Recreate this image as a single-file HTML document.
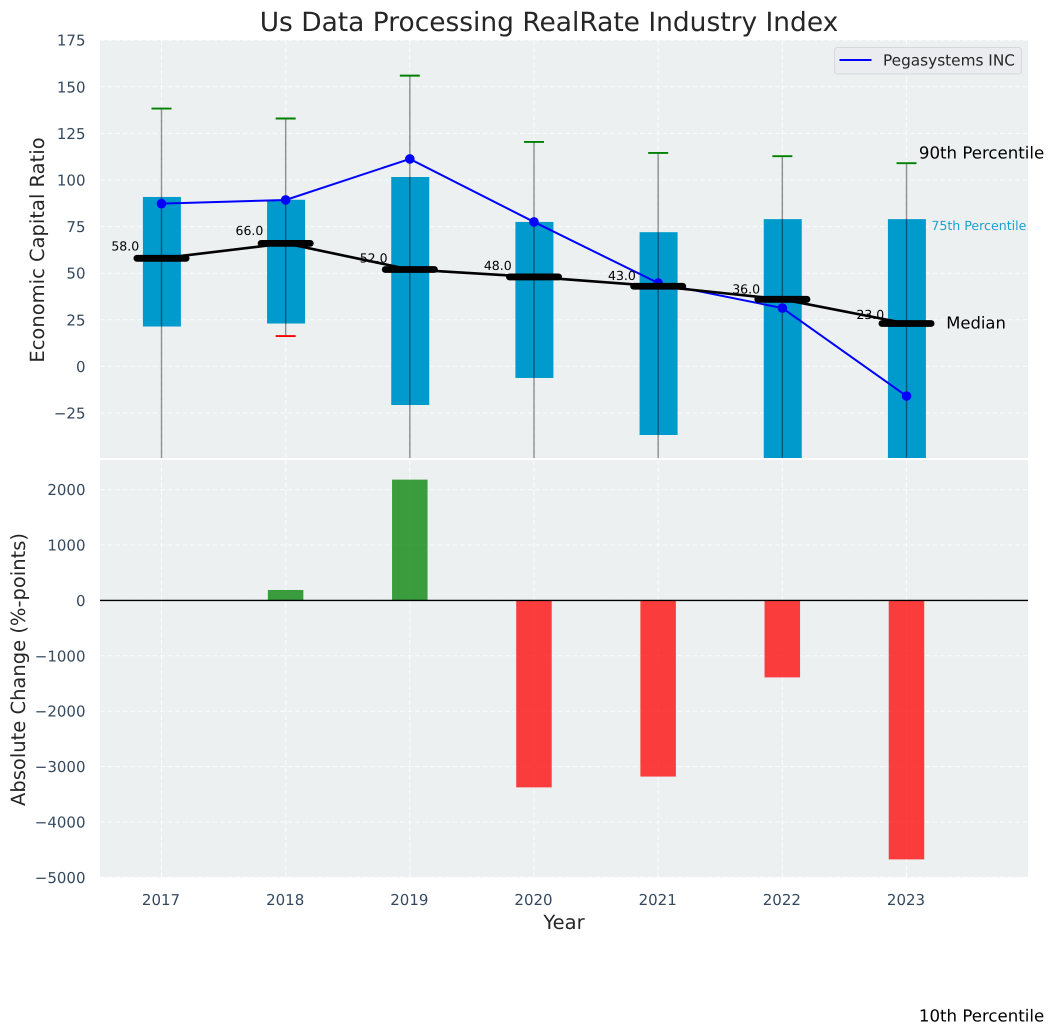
<!DOCTYPE html>
<html lang="en">
<head>
<meta charset="utf-8">
<title>Us Data Processing RealRate Industry Index</title>
<style>
html,body{margin:0;padding:0;background:#fff;width:1054px;height:1035px;overflow:hidden}
svg{display:block;font-family:"DejaVu Sans","Liberation Sans",sans-serif;text-rendering:geometricPrecision}
</style>
</head>
<body>
<svg id="chart" xmlns="http://www.w3.org/2000/svg" width="1054" height="1035" viewBox="0 0 1054 1035">
  <defs>
    <clipPath id="top-clip"><rect x="100" y="40" width="928" height="418"></rect></clipPath>
  </defs>
  <rect x="100" y="40" width="928" height="418" fill="#ecf0f1"></rect>
  <rect x="100" y="460" width="928" height="417.5" fill="#ecf0f1"></rect>
  <g id="top-grid"></g>
  <g id="bottom-grid"></g>
  <g id="boxes" clip-path="url(#top-clip)"></g>
  <g id="company" clip-path="url(#top-clip)"></g>
  <g id="medians" clip-path="url(#top-clip)"></g>
  <g id="bars"></g>
  <line x1="100" x2="1028" y1="600.4" y2="600.4" stroke="#000" stroke-width="1.4"></line>
  <g id="labels"></g>
  <g id="axes"></g>
  <text x="549" y="31" text-anchor="middle" font-size="26.45" fill="#262626">Us Data Processing RealRate Industry Index</text>
  <text transform="translate(44,250) rotate(-90)" text-anchor="middle" font-size="19.5" fill="#262626">Economic Capital Ratio</text>
  <text transform="translate(25,669.5) rotate(-90)" text-anchor="middle" font-size="19.5" fill="#262626">Absolute Change (%-points)</text>
  <text x="564" y="929" text-anchor="middle" font-size="19.5" fill="#262626">Year</text>
  <g>
    <rect x="834.5" y="47.5" width="187" height="26.5" rx="3" fill="#eaecf0" stroke="#d6d8dc" stroke-width="1"></rect>
    <line x1="839.5" x2="871.5" y1="60" y2="60" stroke="#0000ff" stroke-width="2"></line>
    <text x="883" y="65.5" font-size="15.3" fill="#262626">Pegasystems INC</text>
  </g>
</svg>
<script>
const years = [2017, 2018, 2019, 2020, 2021, 2022, 2023];
const p90 = [138.3, 133, 156, 120.4, 114.5, 112.8, 109];
const p75 = [90.9, 89.4, 101.6, 77.5, 72, 79, 79];
const medianValues = [58, 66, 52, 48, 43, 36, 23];
const p25 = [21.4, 23, -20.7, -6.2, -36.8, -60, -70];
const p10 = [-80, 16.3, -90, -75, -100, -120, -348];
const companyValues = [87.3, 89.3, 111.3, 77.5, 44.7, 31.3, -15.9];
const changeValues = [null, 188, 2180, -3375, -3180, -1390, -4675];
const topTicks = [175, 150, 125, 100, 75, 50, 25, 0, -25];
const bottomTicks = [2000, 1000, 0, -1000, -2000, -3000, -4000, -5000];

const NS = 'http://www.w3.org/2000/svg';
function xScale(year) { return 161.5 + (year - 2017) * 124.17; }
function yTop(v) { return 366.4 - v * 1.864; }
function yBottom(v) { return 600.4 - v * 0.0554; }
function fmtTick(v) { return v < 0 ? '\u2212' + Math.abs(v) : String(v); }
function make(parent, tag, attrs, text) {
  const el = document.createElementNS(NS, tag);
  for (const k in attrs) el.setAttribute(k, attrs[k]);
  if (text !== undefined) el.textContent = text;
  parent.appendChild(el);
  return el;
}
const topGrid = document.getElementById('top-grid');
const bottomGrid = document.getElementById('bottom-grid');
const boxes = document.getElementById('boxes');
const company = document.getElementById('company');
const medians = document.getElementById('medians');
const bars = document.getElementById('bars');
const labels = document.getElementById('labels');
const axes = document.getElementById('axes');
const gridStyle = { stroke: '#fff', 'stroke-width': 1, 'stroke-dasharray': '5 2.5', 'stroke-opacity': 0.75 };
const tickStyle = { 'font-size': 15, fill: '#34495e' };

topTicks.forEach(function (t) {
  const gl = make(topGrid, 'line', Object.assign({ x1: 100, x2: 1028, y1: yTop(t), y2: yTop(t) }, gridStyle));
  
  
  const lb = make(axes, 'text', Object.assign({ x: 85.5, y: yTop(t) + 5.5, 'text-anchor': 'end' }, tickStyle), fmtTick(t));
  
  
});
bottomTicks.forEach(function (t) {
  const gl = make(bottomGrid, 'line', Object.assign({ x1: 100, x2: 1028, y1: yBottom(t), y2: yBottom(t) }, gridStyle));
  
  
  const lb = make(axes, 'text', Object.assign({ x: 85.5, y: yBottom(t) + 5.5, 'text-anchor': 'end' }, tickStyle), fmtTick(t));
  
  
});

years.forEach(function (year, i) {
  const x = xScale(year);
  const gt = make(topGrid, 'line', Object.assign({ x1: x, x2: x, y1: 40, y2: 458 }, gridStyle));
  
  
  const gb = make(bottomGrid, 'line', Object.assign({ x1: x, x2: x, y1: 460, y2: 877.5 }, gridStyle));
  
  

  const box = make(boxes, 'rect', { x: x - 18.6, y: yTop(p75[i]), width: 38, height: yTop(p25[i]) - yTop(p75[i]), fill: '#009acc' });
  
  
  const whisker = make(boxes, 'line', { x1: x, x2: x, y1: yTop(p90[i]), y2: yTop(p10[i]), stroke: '#000', 'stroke-opacity': 0.42, 'stroke-width': 1.4 });
  
  
  const capHigh = make(boxes, 'line', { x1: x - 10, x2: x + 10, y1: yTop(p90[i]), y2: yTop(p90[i]), stroke: '#008000', 'stroke-width': 1.9 });
  
  
  const capLow = make(boxes, 'line', { x1: x - 10, x2: x + 10, y1: yTop(p10[i]), y2: yTop(p10[i]), stroke: '#ff0000', 'stroke-width': 1.9 });
  
  

  const v = changeValues[i];
  if (v !== null) {
    const bar = make(bars, 'rect', { x: x - 17.8, y: Math.min(yBottom(v), yBottom(0)), width: 35.5, height: Math.abs(yBottom(v) - yBottom(0)), fill: v >= 0 ? '#008000' : '#ff0000', 'fill-opacity': 0.75 });
    
    
  }

  const tick = make(axes, 'text', Object.assign({ x: x - 0.5, y: 905, 'text-anchor': 'middle' }, tickStyle), String(year));
  
  
});

const companyPath = make(company, 'polyline', { points: years.map(function (y, i) { return xScale(y) + ',' + yTop(companyValues[i]); }).join(' '), fill: 'none', stroke: '#0000ff', 'stroke-width': 2 });


years.forEach(function (year, i) {
  const dot = make(company, 'circle', { cx: xScale(year), cy: yTop(companyValues[i]), r: 4.8, fill: '#0000ff' });
  
  
});

const medianPath = make(medians, 'polyline', { points: years.map(function (y, i) { return xScale(y) + ',' + yTop(medianValues[i]); }).join(' '), fill: 'none', stroke: '#000', 'stroke-width': 2.6 });


years.forEach(function (year, i) {
  const x = xScale(year);
  const v = medianValues[i];
  const bar = make(medians, 'line', { x1: x - 24.6, x2: x + 24.6, y1: yTop(v), y2: yTop(v), stroke: '#000', 'stroke-width': 6.8, 'stroke-linecap': 'round' });
  
  
  const label = make(labels, 'text', { x: x - 22.3, y: yTop(v) - 8.5 - (v - 23) * 0.1 + 4.2, 'text-anchor': 'end', 'font-size': 12.5, fill: '#000' }, v.toFixed(1));
  
  
});

const last = years.length - 1;
const lastX = xScale(years[last]);
const p90Note = make(labels, 'text', { x: lastX + 12.4, y: yTop(p90[last]) - 4.8, 'font-size': 16.6, fill: '#000' }, '90th Percentile');


const p75Note = make(labels, 'text', { x: lastX + 24.8, y: yTop(p75[last]) + 11, 'font-size': 12.6, fill: '#0099cc', 'fill-opacity': 0.9 }, '75th Percentile');


const medianNote = make(labels, 'text', { x: lastX + 39.7, y: yTop(medianValues[last]) + 5, 'font-size': 16.4, fill: '#000' }, 'Median');


const p10Note = make(labels, 'text', { x: lastX + 12.4, y: yTop(p10[last]) + 6.3, 'font-size': 16.6, fill: '#000' }, '10th Percentile');


</script>
</body>
</html>
